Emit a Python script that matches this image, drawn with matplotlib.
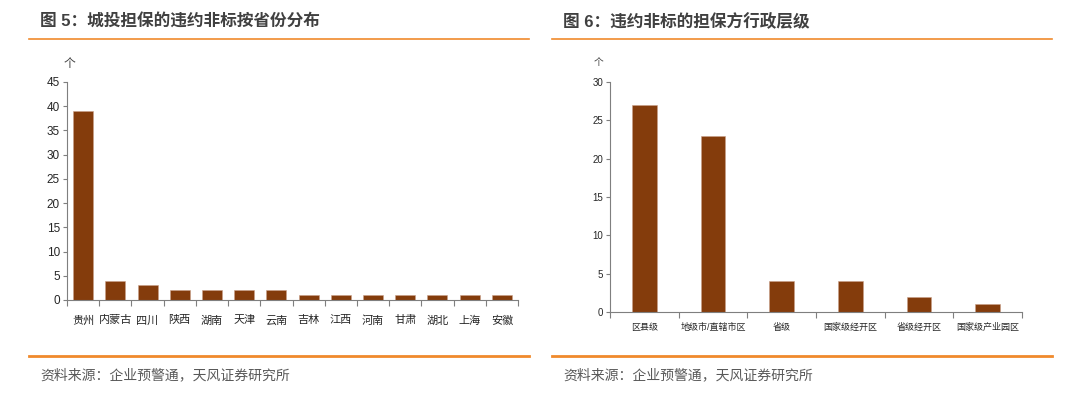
import numpy as np
import matplotlib.pyplot as plt
from matplotlib.lines import Line2D

plt.rcParams['font.family'] = ['Liberation Sans', 'Noto Sans CJK SC', 'DejaVu Sans']

# data
provinces = ['贵州', '内蒙古', '四川', '陕西', '湖南', '天津', '云南',
             '吉林', '江西', '河南', '甘肃', '湖北', '上海', '安徽']
province_counts = [39, 4, 3, 2, 2, 2, 2, 1, 1, 1, 1, 1, 1, 1]

levels = ['区县级', '地级市/直辖市区', '省级', '国家级经开区', '省级经开区', '国家级产业园区']
level_counts = [27, 23, 4, 4, 2, 1]

title_left = '图 5：城投担保的违约非标按省份分布'
title_right = '图 6：违约非标的担保方行政层级'
source = '资料来源：企业预警通，天风证券研究所'

bar_color = '#843C0C'
orange = '#F08A2C'
axis_gray = '#7F7F7F'
text_dark = '#404040'

W, H = 1080, 393
fig = plt.figure(figsize=(W / 100, H / 100), dpi=100)


def fx(px):
    return px / W


def fy(py):
    return 1 - py / H


def hline(x0, x1, y, lw=1.5):
    fig.add_artist(Line2D([fx(x0), fx(x1)], [fy(y), fy(y)], color=orange,
                          lw=lw, transform=fig.transFigure))


def setup(ax, ymax, step, tick_fs, cat_fs, labels, pad):
    n = len(labels)
    ax.set_xlim(0, n)
    ax.set_ylim(0, ymax)
    ax.set_yticks(np.arange(0, ymax + 1, step))
    ax.set_xticks(np.arange(n) + 0.5)
    ax.set_xticklabels(labels, fontsize=cat_fs, color='#262626')
    ax.set_xticks(np.arange(n + 1), minor=True)
    ax.tick_params(axis='x', which='major', length=0, pad=pad)
    ax.tick_params(axis='x', which='minor', length=4, color=axis_gray, width=0.8)
    ax.tick_params(axis='y', length=3, color=axis_gray, width=0.8,
                   labelsize=tick_fs, labelcolor='#262626', pad=2)
    for s in ['top', 'right']:
        ax.spines[s].set_visible(False)
    for s in ['left', 'bottom']:
        ax.spines[s].set_color(axis_gray)
        ax.spines[s].set_linewidth(0.8)


# left chart
ax1 = fig.add_axes([fx(67), fy(300), fx(518) - fx(67), fy(82) - fy(300)])
x1 = np.arange(len(provinces)) + 0.5
ax1.bar(x1, province_counts, width=0.62, color=bar_color, edgecolor='#C9A08A', linewidth=0.4)
setup(ax1, 45, 5, 8.5, 8, provinces, 11)
fig.text(fx(64), fy(64), '个', fontsize=8.5, color='#404040', ha='left', va='center')

# right chart
ax2 = fig.add_axes([fx(610), fy(312), fx(1022) - fx(610), fy(82) - fy(312)])
x2 = np.arange(len(levels)) + 0.5
ax2.bar(x2, level_counts, width=0.36, color=bar_color, edgecolor='#C9A08A', linewidth=0.4)
setup(ax2, 30, 5, 7, 6.5, levels, 8)
fig.text(fx(594), fy(62), '个', fontsize=7, color='#404040', ha='left', va='center')

# titles and decorations
fig.text(fx(40), fy(22), title_left, fontsize=12, fontweight='bold', color=text_dark,
         ha='left', va='center')
fig.text(fx(563), fy(22), title_right, fontsize=12, fontweight='bold', color=text_dark,
         ha='left', va='center')
hline(29, 529, 38.5, lw=1.2)
hline(552, 1052, 38.5, lw=1.2)
hline(29, 529, 356, lw=2)
hline(552, 1052, 356, lw=2)
fig.text(fx(40), fy(375), source, fontsize=10, color='#595959', ha='left', va='center')
fig.text(fx(563), fy(375), source, fontsize=10, color='#595959', ha='left', va='center')

fig.savefig('out.png', dpi=100, facecolor='white')
